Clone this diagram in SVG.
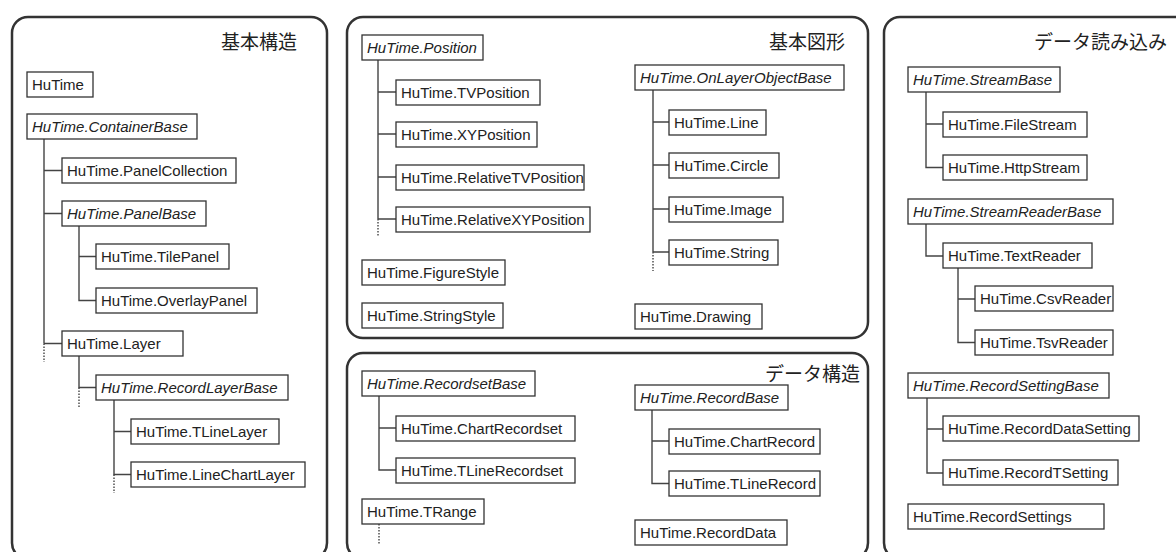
<svg xmlns="http://www.w3.org/2000/svg" width="1176" height="552" viewBox="0 0 1176 552">
<style>
.panel{fill:none;stroke:#333;stroke-width:2.5}
.box rect{fill:#fff;stroke:#333;stroke-width:1.3}
.box text{font-family:"Liberation Sans",Arial,sans-serif;font-size:15px;fill:#222}
.abs text{font-style:italic}
.title{font-family:"Noto Sans CJK JP",sans-serif;font-size:19px;fill:#222;text-anchor:end}
.c{stroke:#444;stroke-width:1.4;fill:none}
.d{stroke:#444;stroke-width:1.4;fill:none;stroke-dasharray:1.5 1.5}
</style>
<rect fill="#fff" width="1176" height="552"/>
<g id="panels">
<rect class="panel" x="12" y="17" width="315" height="542" rx="16"/>
<rect class="panel" x="347" y="17" width="521" height="321" rx="16"/>
<rect class="panel" x="347" y="353" width="521" height="206" rx="16"/>
<rect class="panel" x="884" y="17" width="325" height="542" rx="16"/>
<text class="title" x="297" y="49">基本構造</text>
<text class="title" x="845" y="49">基本図形</text>
<text class="title" x="860" y="381">データ構造</text>
<text class="title" x="1167" y="49">データ読み込み</text>
</g>
<g id="connectors">
<path class="c" d="M44 139V343.5M44 170.5H62M44 213.5H62M44 343.5H62"/>
<path class="d" d="M44 343.5V362"/>
<path class="c" d="M79 226V300.5H96M79 256.5H96"/>
<path class="c" d="M79 356V387.5H96"/>
<path class="d" d="M79 387.5V407"/>
<path class="c" d="M114 400V474.5H131M114 431.5H131"/>
<path class="d" d="M114 474.5V493"/>
<path class="c" d="M378 60V219M378 92H396M378 134H396M378 177H396M378 219H396"/>
<path class="d" d="M378 219V236"/>
<path class="c" d="M653 90V252M653 122H669M653 165H669M653 209H669M653 252H669"/>
<path class="d" d="M653 252V271"/>
<path class="c" d="M379 396V470H396M379 428H396"/>
<path class="d" d="M379 524V545"/>
<path class="c" d="M652 410V483.5H669M652 441H669"/>
<path class="c" d="M926 92V167.5H943M926 124H943"/>
<path class="c" d="M926 224V256H943"/>
<path class="c" d="M958 268V342.5H975M958 299H975"/>
<path class="c" d="M927 398V473H943M927 429H943"/>
</g>
<g id="n-hutime" class="box"><rect x="27" y="72" width="66" height="25"/><text x="32" y="90">HuTime</text></g>
<g id="n-containerbase" class="box abs"><rect x="27" y="114" width="170" height="25"/><text x="32" y="132">HuTime.ContainerBase</text></g>
<g id="n-panelcollection" class="box"><rect x="62" y="158" width="174" height="25"/><text x="67" y="176">HuTime.PanelCollection</text></g>
<g id="n-panelbase" class="box abs"><rect x="62" y="201" width="144" height="25"/><text x="67" y="219">HuTime.PanelBase</text></g>
<g id="n-tilepanel" class="box"><rect x="96" y="244" width="133" height="25"/><text x="101" y="262">HuTime.TilePanel</text></g>
<g id="n-overlaypanel" class="box"><rect x="96" y="288" width="161" height="25"/><text x="101" y="306">HuTime.OverlayPanel</text></g>
<g id="n-layer" class="box"><rect x="62" y="331" width="121" height="25"/><text x="67" y="349">HuTime.Layer</text></g>
<g id="n-recordlayerbase" class="box abs"><rect x="96" y="375" width="192" height="25"/><text x="101" y="393">HuTime.RecordLayerBase</text></g>
<g id="n-tlinelayer" class="box"><rect x="131" y="419" width="148" height="25"/><text x="136" y="437">HuTime.TLineLayer</text></g>
<g id="n-linechartlayer" class="box"><rect x="131" y="462" width="174" height="25"/><text x="136" y="480">HuTime.LineChartLayer</text></g>

<g id="n-position" class="box abs"><rect x="362" y="35" width="121" height="25"/><text x="367" y="53">HuTime.Position</text></g>
<g id="n-tvposition" class="box"><rect x="396" y="80" width="144" height="25"/><text x="401" y="98">HuTime.TVPosition</text></g>
<g id="n-xyposition" class="box"><rect x="396" y="122" width="141" height="25"/><text x="401" y="140">HuTime.XYPosition</text></g>
<g id="n-relativetvposition" class="box"><rect x="396" y="165" width="188" height="25"/><text x="401" y="183">HuTime.RelativeTVPosition</text></g>
<g id="n-relativexyposition" class="box"><rect x="396" y="207" width="194" height="25"/><text x="401" y="225">HuTime.RelativeXYPosition</text></g>
<g id="n-figurestyle" class="box"><rect x="362" y="260" width="143" height="25"/><text x="367" y="278">HuTime.FigureStyle</text></g>
<g id="n-stringstyle" class="box"><rect x="362" y="303" width="141" height="25"/><text x="367" y="321">HuTime.StringStyle</text></g>
<g id="n-onlayerobjectbase" class="box abs"><rect x="635" y="65" width="209" height="25"/><text x="640" y="83">HuTime.OnLayerObjectBase</text></g>
<g id="n-line" class="box"><rect x="669" y="110" width="97" height="25"/><text x="674" y="128">HuTime.Line</text></g>
<g id="n-circle" class="box"><rect x="669" y="153" width="110" height="25"/><text x="674" y="171">HuTime.Circle</text></g>
<g id="n-image" class="box"><rect x="669" y="197" width="114" height="25"/><text x="674" y="215">HuTime.Image</text></g>
<g id="n-string" class="box"><rect x="669" y="240" width="109" height="25"/><text x="674" y="258">HuTime.String</text></g>
<g id="n-drawing" class="box"><rect x="635" y="304" width="127" height="25"/><text x="640" y="322">HuTime.Drawing</text></g>

<g id="n-recordsetbase" class="box abs"><rect x="362" y="371" width="173" height="25"/><text x="367" y="389">HuTime.RecordsetBase</text></g>
<g id="n-chartrecordset" class="box"><rect x="396" y="416" width="179" height="25"/><text x="401" y="434">HuTime.ChartRecordset</text></g>
<g id="n-tlinerecordset" class="box"><rect x="396" y="458" width="179" height="25"/><text x="401" y="476">HuTime.TLineRecordset</text></g>
<g id="n-trange" class="box"><rect x="362" y="499" width="122" height="25"/><text x="367" y="517">HuTime.TRange</text></g>
<g id="n-recordbase" class="box abs"><rect x="635" y="385" width="153" height="25"/><text x="640" y="403">HuTime.RecordBase</text></g>
<g id="n-chartrecord" class="box"><rect x="669" y="429" width="151" height="25"/><text x="674" y="447">HuTime.ChartRecord</text></g>
<g id="n-tlinerecord" class="box"><rect x="669" y="471" width="151" height="25"/><text x="674" y="489">HuTime.TLineRecord</text></g>
<g id="n-recorddata" class="box"><rect x="635" y="520" width="152" height="25"/><text x="640" y="538">HuTime.RecordData</text></g>

<g id="n-streambase" class="box abs"><rect x="908" y="67" width="152" height="25"/><text x="913" y="85">HuTime.StreamBase</text></g>
<g id="n-filestream" class="box"><rect x="943" y="112" width="144" height="25"/><text x="948" y="130">HuTime.FileStream</text></g>
<g id="n-httpstream" class="box"><rect x="943" y="155" width="144" height="25"/><text x="948" y="173">HuTime.HttpStream</text></g>
<g id="n-streamreaderbase" class="box abs"><rect x="908" y="199" width="205" height="25"/><text x="913" y="217">HuTime.StreamReaderBase</text></g>
<g id="n-textreader" class="box"><rect x="943" y="243" width="149" height="25"/><text x="948" y="261">HuTime.TextReader</text></g>
<g id="n-csvreader" class="box"><rect x="975" y="286" width="138" height="25"/><text x="980" y="304">HuTime.CsvReader</text></g>
<g id="n-tsvreader" class="box"><rect x="975" y="330" width="138" height="25"/><text x="980" y="348">HuTime.TsvReader</text></g>
<g id="n-recordsettingbase" class="box abs"><rect x="908" y="373" width="201" height="25"/><text x="913" y="391">HuTime.RecordSettingBase</text></g>
<g id="n-recorddatasetting" class="box"><rect x="943" y="416" width="196" height="25"/><text x="948" y="434">HuTime.RecordDataSetting</text></g>
<g id="n-recordtsetting" class="box"><rect x="943" y="460" width="175" height="25"/><text x="948" y="478">HuTime.RecordTSetting</text></g>
<g id="n-recordsettings" class="box"><rect x="908" y="504" width="196" height="25"/><text x="913" y="522">HuTime.RecordSettings</text></g>
</svg>
